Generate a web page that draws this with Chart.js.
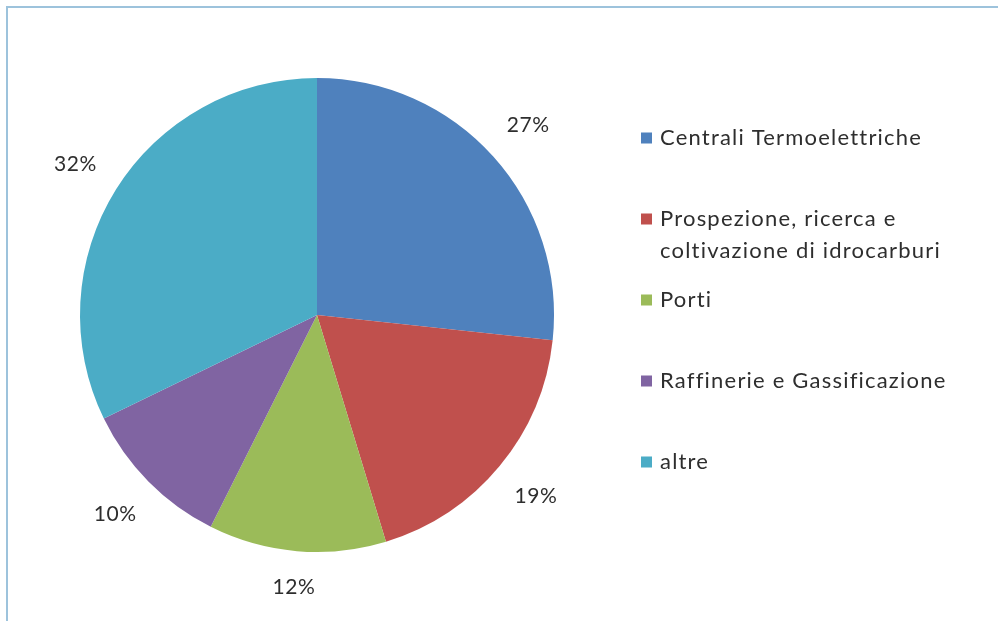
<!DOCTYPE html>
<html>
<head>
<meta charset="utf-8">
<script src="https://cdn.jsdelivr.net/npm/chart.js@4/dist/chart.umd.min.js"></script>
<style>
  html, body { margin: 0; padding: 0; background: #ffffff; }
  #wrap { position: relative; width: 998px; height: 621px; background: #ffffff; overflow: hidden; }
  #frame { position: absolute; left: 6px; top: 6px; width: 1000px; height: 700px;
           border-left: 2px solid #9dc3dc; border-top: 2px solid #9dc3dc; box-sizing: border-box; }
  canvas { position: absolute; left: 0; top: 0; }
</style>
</head>
<body>
<div id="wrap">
  <div id="frame"></div>
  <canvas id="c" width="998" height="621"></canvas>
</div>
<script>
// ---- data ----
const categories = [
  'Centrali Termoelettriche',
  ['Prospezione, ricerca e', 'coltivazione di idrocarburi'],
  'Porti',
  'Raffinerie e Gassificazione',
  'altre'
];
const shares = [26.7, 18.6, 12.1, 10.4, 32.2];
const percentLabels = ['27%', '19%', '12%', '10%', '32%'];
const sliceColors = ['#4F81BD', '#C0504D', '#9BBB59', '#8064A2', '#4BACC6'];

const FONT = 'Lato, "Open Sans", sans-serif';

const outsideLabels = {
  id: 'outsideLabels',
  afterDatasetsDraw(chart) {
    const ctx = chart.ctx;
    const meta = chart.getDatasetMeta(0);
    ctx.save();
    ctx.font = '21px ' + FONT;
    ctx.letterSpacing = '0.6px';
    ctx.fillStyle = '#2e2e2e';
    ctx.textAlign = 'center';
    ctx.textBaseline = 'middle';
    meta.data.forEach((arc, i) => {
      const mid = (arc.startAngle + arc.endAngle) / 2;
      const ux = Math.cos(mid), uy = Math.sin(mid);
      const txt = percentLabels[i];
      const hw = ctx.measureText(txt).width / 2, hh = 9;
      const d = arc.outerRadius + 25 + hw * Math.abs(ux) + hh * Math.abs(uy);
      ctx.fillText(txt, arc.x + ux * d, arc.y + uy * d);
    });
    ctx.restore();
  }
};

const sideLegend = {
  id: 'sideLegend',
  afterDraw(chart) {
    const ctx = chart.ctx;
    const labels = chart.data.labels;
    const colors = chart.data.datasets[0].backgroundColor;
    ctx.save();
    ctx.font = '22px ' + FONT;
    ctx.letterSpacing = '1.2px';
    ctx.textAlign = 'left';
    ctx.textBaseline = 'middle';
    let y = 138;
    labels.forEach((lab, i) => {
      const lines = Array.isArray(lab) ? lab : [lab];
      ctx.fillStyle = colors[i];
      ctx.fillRect(641, y - 5.5, 11, 11);
      ctx.fillStyle = '#2e2e2e';
      lines.forEach((ln, k) => ctx.fillText(ln, 660, y + k * 32));
      y += 81;
    });
    ctx.restore();
  }
};

new Chart(document.getElementById('c'), {
  type: 'pie',
  data: {
    labels: categories,
    datasets: [{
      data: shares,
      backgroundColor: sliceColors,
      borderWidth: 0
    }]
  },
  options: {
    responsive: false,
    animation: false,
    events: [],
    layout: { padding: { left: 80, right: 444, top: 78, bottom: 69 } },
    plugins: {
      legend: { display: false },
      tooltip: { enabled: false }
    }
  },
  plugins: [outsideLabels, sideLegend]
});
</script>
</body>
</html>
